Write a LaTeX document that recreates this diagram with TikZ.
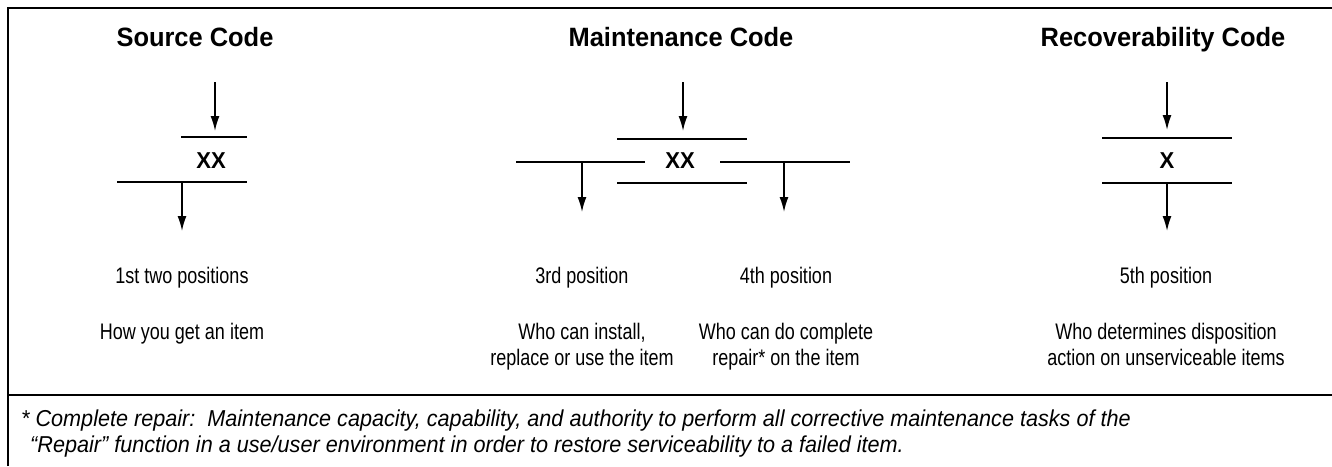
\documentclass[tikz,border=0pt]{standalone}
\usepackage{fontspec}
\setmainfont{Liberation Sans}
\newfontfamily\bodyfont[FakeStretch=0.8]{Liberation Sans}
\newfontfamily\notefont[FakeStretch=0.94]{Liberation Sans}
\newfontfamily\headfont[FakeStretch=0.96]{Liberation Sans}
\usetikzlibrary{arrows.meta}
\begin{document}
\begin{tikzpicture}[x=1pt,y=-1pt,
  frame/.style={line width=2.6pt},
  rule/.style={line width=2pt},
  arr/.style={line width=1.6pt,-{Latex[length=15pt,width=9pt]}},
  title/.style={font=\headfont\fontsize{26.5}{30}\selectfont\bfseries,inner sep=0pt,anchor=base},
  code/.style={font=\headfont\fontsize{23}{26}\selectfont\bfseries,inner sep=0pt},
  body/.style={font=\bodyfont\fontsize{22.5}{26}\selectfont,align=center,inner sep=0pt,anchor=base},
  note/.style={font=\notefont\fontsize{23}{26}\selectfont\itshape,anchor=base west,inner sep=0pt}]
\useasboundingbox (0,0) rectangle (1332,466);
% frame
\coordinate (fbl) at (8,466);
\coordinate (ftl) at (8,8);
\coordinate (ftr) at (1332,8);
\coordinate (sl) at (8,395);
\coordinate (sr) at (1332,395);
\draw[frame] (fbl) -- (ftl) -- (ftr);
\draw[frame] (sl) -- (sr);
% titles
\node[title] (t1) at (195,46) {Source Code};
\node[title] (t2) at (681,46) {Maintenance Code};
\node[title] (t3) at (1163,46) {Recoverability Code};
% Source code
\coordinate (s1a) at (215,82);
\coordinate (s1b) at (215,131);
\draw[arr] (s1a) -- (s1b);
\coordinate (s1u1) at (181,137); \coordinate (s1u2) at (247,137);
\draw[rule] (s1u1) -- (s1u2);
\node[code] (sxx) at (211,161) {XX};
\coordinate (s1l1) at (117,182); \coordinate (s1l2) at (247,182);
\draw[rule] (s1l1) -- (s1l2);
\coordinate (s2a) at (182,182); \coordinate (s2b) at (182,231);
\draw[arr] (s2a) -- (s2b);
% Maintenance code
\coordinate (m1a) at (683,82);
\coordinate (m1b) at (683,131);
\draw[arr] (m1a) -- (m1b);
\coordinate (mu1) at (617,139); \coordinate (mu2) at (747,139);
\draw[rule] (mu1) -- (mu2);
\node[code] (mxx) at (680,161) {XX};
\coordinate (ml1) at (516,162); \coordinate (ml2) at (645,162);
\draw[rule] (ml1) -- (ml2);
\coordinate (mr1) at (720,162); \coordinate (mr2) at (850,162);
\draw[rule] (mr1) -- (mr2);
\coordinate (mb1) at (617,183); \coordinate (mb2) at (747,183);
\draw[rule] (mb1) -- (mb2);
\coordinate (m2a) at (582,162); \coordinate (m2b) at (582,212);
\draw[arr] (m2a) -- (m2b);
\coordinate (m3a) at (784,162); \coordinate (m3b) at (784,212);
\draw[arr] (m3a) -- (m3b);
% Recoverability code
\coordinate (r1a) at (1167,82);
\coordinate (r1b) at (1167,130);
\draw[arr] (r1a) -- (r1b);
\coordinate (ru1) at (1102,138); \coordinate (ru2) at (1232,138);
\draw[rule] (ru1) -- (ru2);
\node[code] (rx) at (1167,161) {X};
\coordinate (rl1) at (1102,183); \coordinate (rl2) at (1232,183);
\draw[rule] (rl1) -- (rl2);
\coordinate (r2a) at (1167,183); \coordinate (r2b) at (1167,231);
\draw[arr] (r2a) -- (r2b);
% position labels
\node[body] (p1) at (182,283) {1st two positions};
\node[body] (p3) at (582,283) {3rd position};
\node[body] (p4) at (786,283) {4th position};
\node[body] (p5) at (1166,283) {5th position};
% descriptions (base anchor = baseline of last line)
\node[body] (d1) at (182,339) {How you get an item};
\node[body] (d3) at (582,365) {Who can install,\\replace or use the item};
\node[body] (d4) at (786,365) {Who can do complete\\repair* on the item};
\node[body] (d5) at (1166,365) {Who determines disposition\\action on unserviceable items};
% footnote
\node[note] (n1) at (21,426) {* Complete repair:\ \ Maintenance capacity, capability, and authority to perform all corrective maintenance tasks of the};
\node[note] (n2) at (30,452) {“Repair” function in a use/user environment in order to restore serviceability to a failed item.};
\end{tikzpicture}
\end{document}
